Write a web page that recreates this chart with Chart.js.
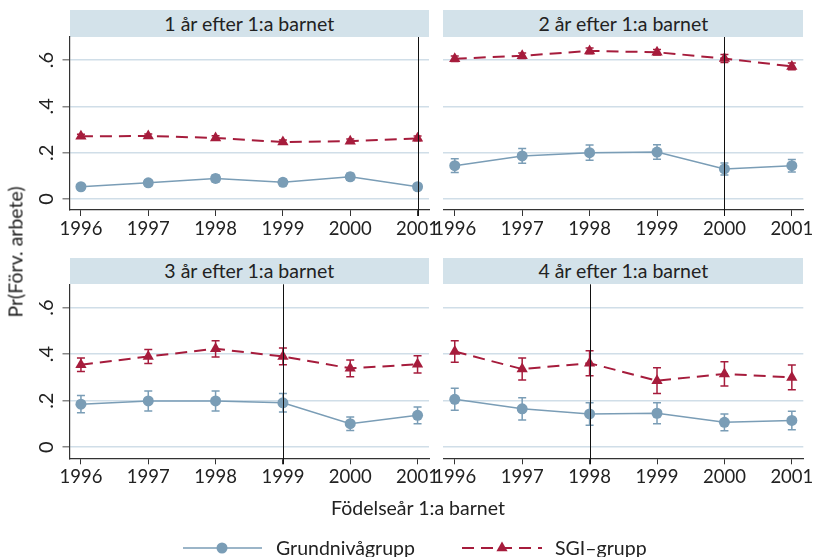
<!DOCTYPE html>
<html>
<head>
<meta charset="utf-8">
<script src="https://cdn.jsdelivr.net/npm/chart.js@4.4.1/dist/chart.umd.min.js"></script>
<style>
  body { margin: 0; background: #fff; font-family: Lato, "Open Sans", sans-serif; color: #222; }
  #wrap { position: relative; width: 817px; height: 557px; overflow: hidden; }
  canvas { position: absolute; left: 0; top: 0; }
  .strip { position: absolute; background: #d3e2ea; text-align: center; font-size: 19.5px; }
  .lbl { position: absolute; font-size: 19.5px; white-space: nowrap; }
</style>
</head>
<body>
<div id="wrap"></div>
<script>
const years = [1996, 1997, 1998, 1999, 2000, 2001];
const panelTitles = ['1 år efter 1:a barnet', '2 år efter 1:a barnet', '3 år efter 1:a barnet', '4 år efter 1:a barnet'];
const cutYears = [2001, 2000, 1999, 1998];
const yTicks = [0, 0.2, 0.4, 0.6];
const yTickLabels = ['0', '.2', '.4', '.6'];
const seriesNames = ['Grundnivågrupp', 'SGI–grupp'];

// point estimates and half widths of the confidence intervals
const grund1 = [0.053, 0.070, 0.089, 0.072, 0.096, 0.053];
const grundErr1 = [0.012, 0.013, 0.015, 0.013, 0.015, 0.012];
const sgi1 = [0.271, 0.272, 0.264, 0.246, 0.250, 0.262];
const sgiErr1 = [0.009, 0.009, 0.009, 0.009, 0.009, 0.010];

const grund2 = [0.144, 0.186, 0.200, 0.203, 0.130, 0.144];
const grundErr2 = [0.030, 0.032, 0.033, 0.031, 0.026, 0.027];
const sgi2 = [0.606, 0.619, 0.640, 0.634, 0.607, 0.573];
const sgiErr2 = [0.012, 0.012, 0.012, 0.012, 0.017, 0.015];

const grund3 = [0.185, 0.199, 0.199, 0.191, 0.101, 0.137];
const grundErr3 = [0.037, 0.043, 0.043, 0.040, 0.029, 0.036];
const sgi3 = [0.354, 0.390, 0.423, 0.390, 0.339, 0.356];
const sgiErr3 = [0.029, 0.030, 0.035, 0.036, 0.036, 0.037];

const grund4 = [0.206, 0.165, 0.143, 0.146, 0.107, 0.115];
const grundErr4 = [0.047, 0.048, 0.048, 0.045, 0.036, 0.040];
const sgi4 = [0.411, 0.336, 0.361, 0.286, 0.315, 0.300];
const sgiErr4 = [0.046, 0.047, 0.054, 0.055, 0.052, 0.053];

const grundAll = [grund1, grund2, grund3, grund4];
const grundErrAll = [grundErr1, grundErr2, grundErr3, grundErr4];
const sgiAll = [sgi1, sgi2, sgi3, sgi4];
const sgiErrAll = [sgiErr1, sgiErr2, sgiErr3, sgiErr4];

const BLUE = '#7a9db6';
const RED = '#a61c3c';
const GRID = '#d0dee8';
const AXIS = '#333333';
const TEXT = '#222222';
const FONT = 'Lato, "Open Sans", sans-serif';

const W = 817, H = 557;
const cols = [{ left: 69.5, right: 429 }, { left: 443.3, right: 803.3 }];
const rows = [{ top: 37, bottom: 210, strip: 10 }, { top: 284.3, bottom: 458.3, strip: 258 }];

const wrap = document.getElementById('wrap');

const extras = {
  id: 'extras',
  beforeDatasetsDraw(chart) {
    const { ctx } = chart;
    const xs = chart.scales.x, ys = chart.scales.y;
    chart.data.datasets.forEach(ds => {
      ctx.save();
      ctx.strokeStyle = ds.borderColor;
      ctx.lineWidth = 1.5;
      ds.data.forEach((p, j) => {
        const x = xs.getPixelForValue(p.x);
        const y1 = ys.getPixelForValue(p.y - ds.err[j]);
        const y2 = ys.getPixelForValue(p.y + ds.err[j]);
        ctx.beginPath();
        ctx.moveTo(x, y1); ctx.lineTo(x, y2);
        ctx.moveTo(x - 4, y1); ctx.lineTo(x + 4, y1);
        ctx.moveTo(x - 4, y2); ctx.lineTo(x + 4, y2);
        ctx.stroke();
      });
      ctx.restore();
    });
  },
  afterDatasetsDraw(chart, args, opts) {
    const { ctx, chartArea } = chart;
    const x = Math.round(chart.scales.x.getPixelForValue(opts.cut)) + 0.5;
    ctx.save();
    ctx.strokeStyle = '#111';
    ctx.lineWidth = 1;
    ctx.beginPath();
    ctx.moveTo(x, chartArea.top);
    ctx.lineTo(x, chartArea.bottom + 6);
    ctx.stroke();
    ctx.restore();
  },
  afterDraw(chart, args, opts) {
    if (!opts.yLabels) return;
    const { ctx } = chart;
    const ys = chart.scales.y;
    ctx.save();
    ctx.fillStyle = TEXT;
    ctx.font = '20px ' + FONT;
    ctx.textAlign = 'center';
    ctx.textBaseline = 'middle';
    yTicks.forEach((v, i) => {
      ctx.save();
      ctx.translate(47, ys.getPixelForValue(v));
      ctx.rotate(-Math.PI / 2);
      ctx.fillText(yTickLabels[i], 0, 0);
      ctx.restore();
    });
    ctx.restore();
  }
};

for (let p = 0; p < 4; p++) {
  const col = cols[p % 2], row = rows[Math.floor(p / 2)];
  const isLeft = p % 2 === 0;

  const strip = document.createElement('div');
  strip.className = 'strip';
  strip.style.left = col.left + 'px';
  strip.style.width = (col.right - col.left) + 'px';
  strip.style.top = row.strip + 'px';
  strip.style.height = (row.top - row.strip) + 'px';
  strip.style.lineHeight = (row.top - row.strip) + 'px';
  strip.textContent = panelTitles[p];
  wrap.appendChild(strip);

  const cv = document.createElement('canvas');
  cv.width = W; cv.height = H;
  wrap.appendChild(cv);

  const yW = isLeft ? 20 : 0, xH = 40;

  new Chart(cv.getContext('2d'), {
    type: 'line',
    data: {
      datasets: [
        {
          label: seriesNames[0],
          data: years.map((yr, i) => ({ x: yr, y: grundAll[p][i] })),
          err: grundErrAll[p],
          borderColor: BLUE, backgroundColor: BLUE,
          borderWidth: 1.5, pointRadius: 5.5, pointBorderWidth: 0,
          pointStyle: 'circle'
        },
        {
          label: seriesNames[1],
          data: years.map((yr, i) => ({ x: yr, y: sgiAll[p][i] })),
          err: sgiErrAll[p],
          borderColor: RED, backgroundColor: RED,
          borderWidth: 2, borderDash: [12, 7], pointRadius: 6.5, pointBorderWidth: 0,
          pointStyle: 'triangle'
        }
      ]
    },
    options: {
      responsive: false,
      animation: false,
      events: [],
      layout: {
        padding: {
          left: col.left - yW,
          right: W - col.right,
          top: row.top,
          bottom: H - row.bottom - xH
        }
      },
      plugins: {
        legend: { display: false },
        tooltip: { enabled: false },
        extras: { cut: cutYears[p], yLabels: isLeft }
      },
      scales: {
        x: {
          type: 'linear',
          min: 1995.83, max: 2001.17,
          afterBuildTicks: s => { s.ticks = years.map(v => ({ value: v })); },
          afterFit: s => { s.height = xH; s.paddingLeft = 0; s.paddingRight = 0; },
          grid: { drawOnChartArea: false, drawTicks: true, tickLength: 6, tickColor: AXIS, tickWidth: 1 },
          border: { display: true, color: AXIS, width: 1.2 },
          ticks: {
            maxRotation: 0, minRotation: 0, padding: 2, color: TEXT,
            font: { family: FONT, size: 18.5 },
            callback: v => String(v)
          }
        },
        y: {
          type: 'linear',
          min: -0.0475,
          max: 0.7,
          afterBuildTicks: s => { s.ticks = yTicks.map(v => ({ value: v })); },
          afterFit: s => { s.width = yW; s.paddingTop = 0; s.paddingBottom = 0; },
          grid: {
            color: GRID, lineWidth: 1.5,
            drawTicks: isLeft, tickLength: 7, tickColor: '#888'
          },
          border: { display: isLeft, color: AXIS, width: 1.2 },
          ticks: { display: false }
        }
      }
    },
    plugins: [extras]
  });
}

// axis titles
const yTitle = document.createElement('div');
yTitle.className = 'lbl';
yTitle.textContent = 'Pr(Förv. arbete)';
yTitle.style.left = '15px';
yTitle.style.top = '252px';
yTitle.style.transform = 'translate(-50%, -50%) rotate(-90deg)';
wrap.appendChild(yTitle);

const xTitle = document.createElement('div');
xTitle.className = 'lbl';
xTitle.textContent = 'Födelseår 1:a barnet';
xTitle.style.left = '418px';
xTitle.style.top = '507px';
xTitle.style.transform = 'translate(-50%, -50%)';
wrap.appendChild(xTitle);

// legend
const legend = document.createElement('div');
legend.className = 'lbl';
legend.style.left = '0px';
legend.style.top = '536px';
legend.innerHTML = `
<svg width="817" height="24" style="position:absolute;left:0;top:0">
  <line x1="183" y1="12" x2="262" y2="12" stroke="${BLUE}" stroke-width="1.5"/>
  <circle cx="222" cy="12" r="5.5" fill="${BLUE}"/>
  <line x1="462" y1="12" x2="542" y2="12" stroke="${RED}" stroke-width="2" stroke-dasharray="12 7"/>
  <polygon points="502,5.5 496.4,15.3 507.6,15.3" fill="${RED}"/>
  <text x="276" y="19" font-family='${FONT}' font-size="19.5" fill="${TEXT}">${seriesNames[0]}</text>
  <text x="555" y="19" font-family='${FONT}' font-size="19.5" fill="${TEXT}">${seriesNames[1]}</text>
</svg>`;
wrap.appendChild(legend);
</script>
</body>
</html>
